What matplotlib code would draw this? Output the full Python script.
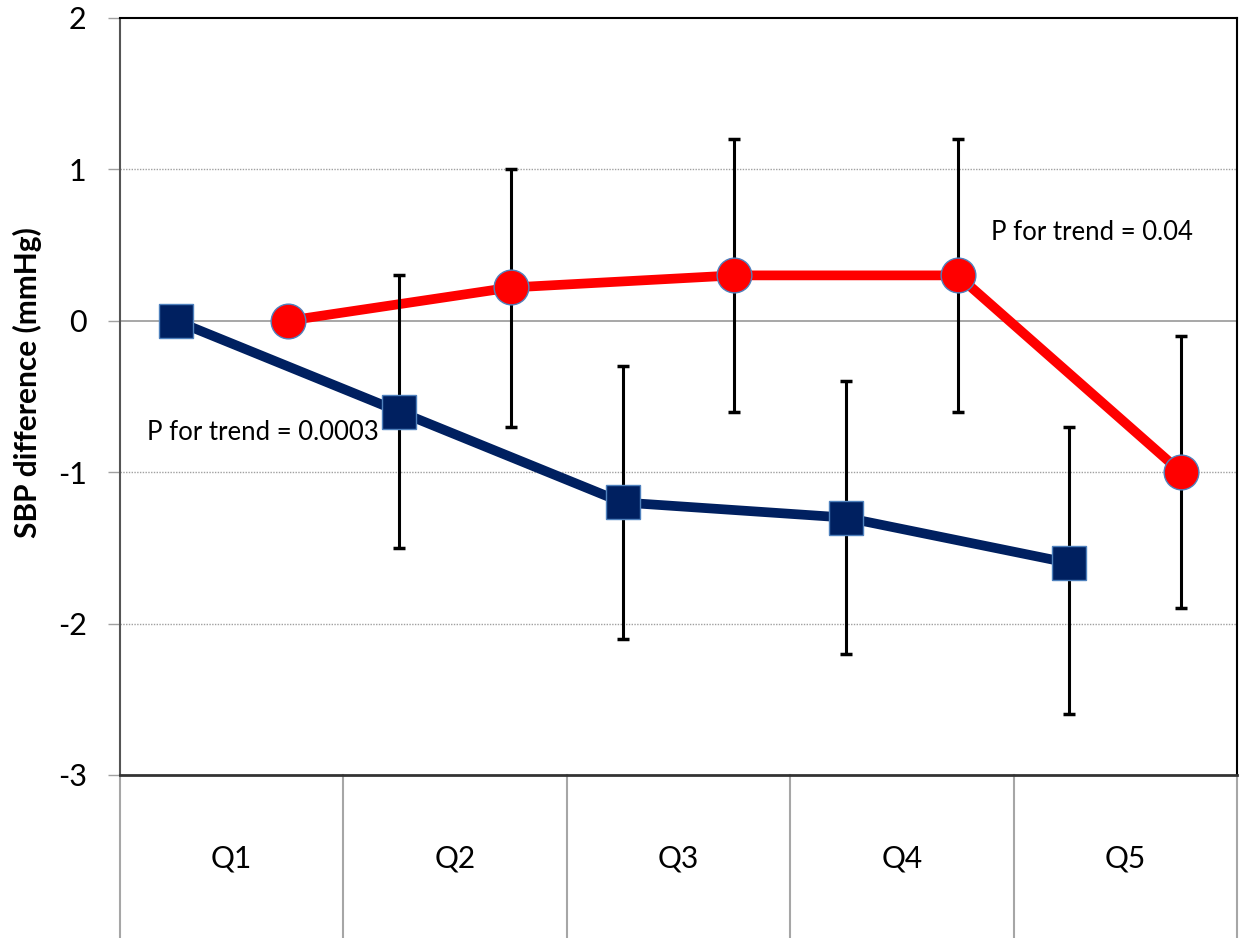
import numpy as np
import matplotlib.pyplot as plt

# --- Data ---
categories = ["Q1", "Q2", "Q3", "Q4", "Q5"]

blue_mean = [0.0, -0.6, -1.2, -1.3, -1.6]
blue_upper = [0.0, 0.3, -0.3, -0.4, -0.7]
blue_lower = [0.0, -1.5, -2.1, -2.2, -2.6]

red_mean = [0.0, 0.22, 0.3, 0.3, -1.0]
red_upper = [0.0, 1.0, 1.2, 1.2, -0.1]
red_lower = [0.0, -0.7, -0.6, -0.6, -1.9]

yticks = [-3, -2, -1, 0, 1, 2]

plt.rcParams['font.family'] = ['Lato', 'DejaVu Sans']

NAVY = '#002060'
RED = '#FF0000'
EDGE = '#4F81BD'

fig = plt.figure(figsize=(12.44, 9.38), dpi=100)
ax = fig.add_axes([120 / 1244, 1 - 775 / 938, (1237 - 120) / 1244, (775 - 18) / 938])

idx = np.arange(len(categories))
xb = idx + 0.25
xr = idx + 0.75


def err(mean, upper, lower):
    mean = np.array(mean)
    return np.vstack([mean - np.array(lower), np.array(upper) - mean])


# lines
ax.plot(xb, blue_mean, color=NAVY, lw=7, zorder=2, solid_capstyle='butt')
ax.plot(xr, red_mean, color=RED, lw=7, zorder=2, solid_capstyle='butt')

# error bars (no bar for the reference group Q1)
ax.errorbar(xb[1:], np.array(blue_mean)[1:], yerr=err(blue_mean, blue_upper, blue_lower)[:, 1:],
            fmt='none', ecolor='black', elinewidth=2.2, capsize=4, capthick=2.5, zorder=3)
ax.errorbar(xr[1:], np.array(red_mean)[1:], yerr=err(red_mean, red_upper, red_lower)[:, 1:],
            fmt='none', ecolor='black', elinewidth=2.2, capsize=4, capthick=2.5, zorder=3)

# markers
ax.plot(xb, blue_mean, ls='none', marker='s', ms=25, mfc=NAVY, mec=EDGE, mew=1, zorder=4)
ax.plot(xr, red_mean, ls='none', marker='o', ms=25, mfc=RED, mec=EDGE, mew=1, zorder=4)

ax.set_xlim(0, len(categories))
ax.set_ylim(-3, 2)
ax.set_yticks(yticks)
ax.set_yticklabels([str(t) for t in yticks], fontsize=22)
ax.tick_params(axis='y', length=9, width=1, color='#A0A0A0', pad=15)
ax.set_xticks([])

# gridlines
for t in yticks:
    if t == 0:
        ax.axhline(t, color='#A0A0A0', lw=1.3, zorder=1)
    elif -3 < t < 2:
        ax.axhline(t, color='#A0A0A0', lw=1, ls=(0, (1, 1)), zorder=1)

# frame
for s in ['top', 'right']:
    ax.spines[s].set_color('black')
    ax.spines[s].set_linewidth(1.5)
ax.spines['bottom'].set_color('#333333')
ax.spines['bottom'].set_linewidth(2)
ax.spines['left'].set_color('#555555')
ax.spines['left'].set_linewidth(1.5)
ax.spines['left'].set_linestyle((0, (1, 1)))

# category axis below the plot
trans = ax.get_xaxis_transform()
for b in range(len(categories) + 1):
    ax.plot([b, b], [0, -0.3], transform=trans, color='#A6A6A6', lw=1.5, clip_on=False)
for i, c in enumerate(categories):
    ax.text(i + 0.5, -0.11, c, transform=trans, ha='center', va='center', fontsize=21.5)

ax.set_ylabel("SBP difference (mmHg)", fontsize=21.5, fontweight='bold')
ax.yaxis.set_label_coords(-0.07, 0.518)

# annotations
ax.text(0.12, -0.74, "P for trend = 0.0003", fontsize=18.5, ha='left', va='center')
ax.text(3.9, 0.58, "P for trend = 0.04", fontsize=18.5, ha='left', va='center')

fig.savefig("out.png", dpi=100)
